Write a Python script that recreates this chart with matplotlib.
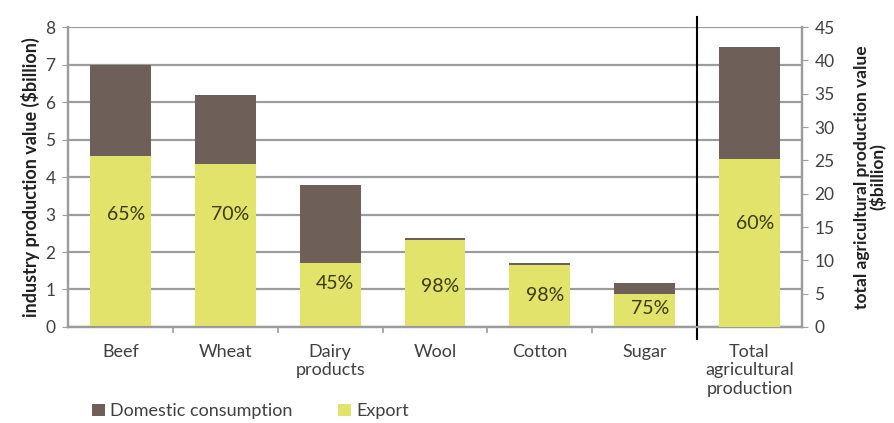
import matplotlib.pyplot as plt
import numpy as np

plt.rcParams['font.family'] = ['Lato', 'DejaVu Sans']

categories = ['Beef', 'Wheat', 'Dairy\nproducts', 'Wool', 'Cotton', 'Sugar',
              'Total\nagricultural\nproduction']
# industry values in $billion (left axis)
industry_total = [7.0, 6.2, 3.8, 2.37, 1.7, 1.18]
export_share = [65, 70, 45, 98, 98, 75]
# whole of agriculture in $billion (right axis)
agri_total = 42.0
agri_share = 60

export = [t * s / 100 for t, s in zip(industry_total, export_share)]
domestic = [t - e for t, e in zip(industry_total, export)]
agri_export = agri_total * agri_share / 100
agri_domestic = agri_total - agri_export

c_exp = '#e2e36a'
c_dom = '#6f5f59'
grey = '#9c9c9c'
txt = '#404040'

fig = plt.figure(figsize=(8.95, 4.23), dpi=100)
ax = fig.add_axes([0.076, 0.227, 0.82, 0.709])
ax2 = ax.twinx()

x = np.arange(len(industry_total))
w = 0.58
ax.bar(x, export, w, color=c_exp, zorder=3, label='Export')
ax.bar(x, domestic, w, bottom=export, color=c_dom, zorder=3,
       label='Domestic consumption')
ax2.bar([6], [agri_export], w, color=c_exp, zorder=3)
ax2.bar([6], [agri_domestic], w, bottom=[agri_export], color=c_dom, zorder=3)

# where the percentage sits inside each export bar
label_y = [3.0, 3.0, 1.17, 1.07, 0.83, 0.48]
for xi, s, ly in zip(x, export_share, label_y):
    ax.text(xi + 0.05, ly, f'{s}%', ha='center', va='center', fontsize=14,
            color='#3a3a10', zorder=4)
ax2.text(6 + 0.05, 15.6, f'{agri_share}%', ha='center', va='center',
         fontsize=14, color='#3a3a10', zorder=4)

ax.set_xlim(-0.5, 6.5)
ax.set_ylim(0, 8)
ax2.set_ylim(0, 45)
ax.set_yticks(range(0, 9))
ax2.set_yticks(range(0, 46, 5))
ax.yaxis.grid(True, color=grey, lw=1.6, zorder=0)
ax.set_axisbelow(True)

ax.set_xticks(range(7))
ax.set_xticklabels(categories, fontsize=13, color=txt, va='top', linespacing=1.2)
ax.set_xticks(np.arange(0.5, 6, 1), minor=True)
ax.tick_params(axis='x', which='major', length=0, pad=12)
ax.tick_params(axis='x', which='minor', length=4, color=grey, width=1.2)
ax.tick_params(axis='y', length=4, color=grey, labelsize=12.5, labelcolor=txt,
               pad=5)
ax2.tick_params(axis='y', length=4, color=grey, labelsize=12.5, labelcolor=txt,
                pad=5)

for a in (ax, ax2):
    a.spines['top'].set_visible(False)
    for s in ('left', 'right', 'bottom'):
        a.spines[s].set_color(grey)
        a.spines[s].set_linewidth(1.6)

ax.set_ylabel('industry production value ($billion)', fontsize=13,
              fontweight='bold', color='#202020', labelpad=4)
ax2.set_ylabel('total agricultural production value\n($billion)', fontsize=12.5,
               fontweight='bold', color='#202020', labelpad=14, linespacing=0.95)

# divider between single industries and the total
ax.axvline(5.5, ymin=-0.04, ymax=1.033, color='black', lw=1.5, clip_on=False,
           zorder=5)

h, l = ax.get_legend_handles_labels()
fig.legend(h[::-1], l[::-1], loc='lower left', bbox_to_anchor=(0.085, -0.03),
           ncol=2, frameon=False, fontsize=13, handlelength=0.7,
           handleheight=0.7, handletextpad=0.3, columnspacing=2.5,
           labelcolor=txt)

fig.savefig('out.png', dpi=100)
